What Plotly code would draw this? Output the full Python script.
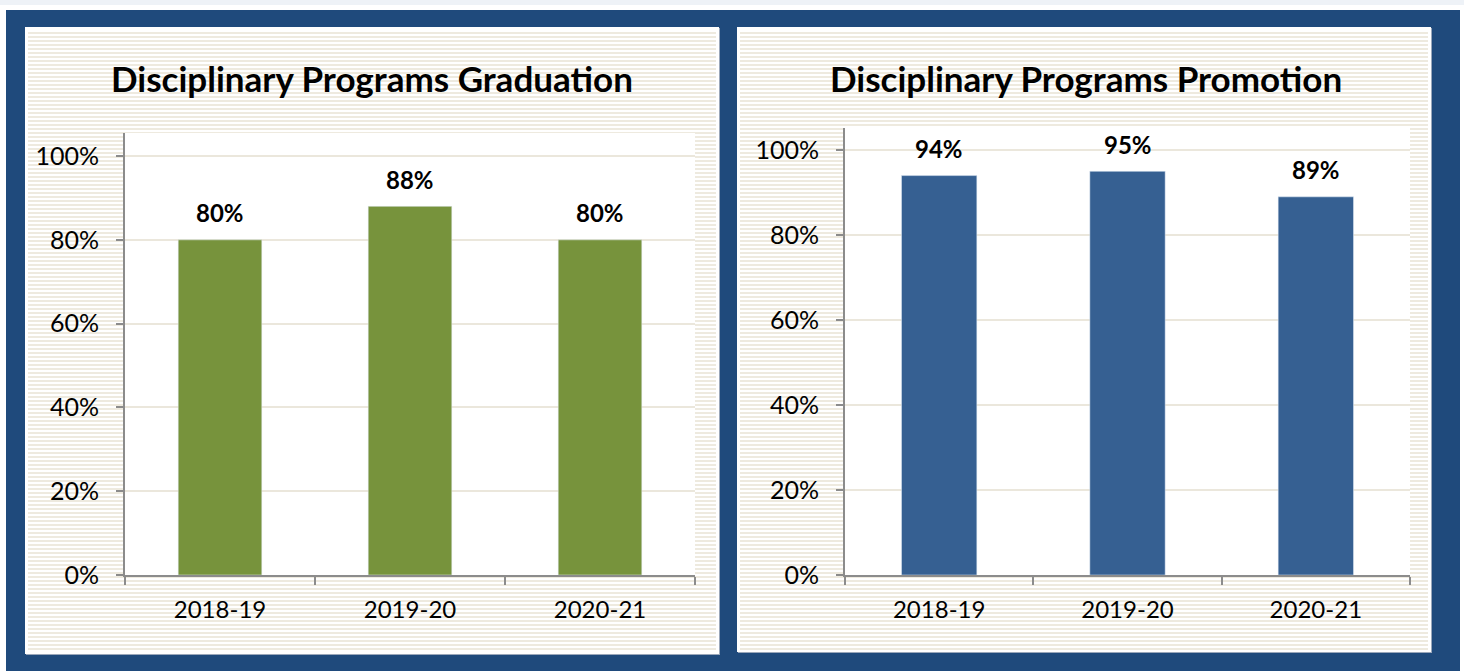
import base64
import plotly.graph_objects as go

# ---- data ----
years = ["2018-19", "2019-20", "2020-21"]
graduation = [0.80, 0.88, 0.80]
promotion = [0.94, 0.95, 0.89]
grad_title = "Disciplinary Programs Graduation"
promo_title = "Disciplinary Programs Promotion"
y_ticks = [0, 0.2, 0.4, 0.6, 0.8, 1.0]

W, H = 1464, 671
FONT = "Lato"
GREEN = "#77933c"
BLUE = "#366092"
FRAME = "#1f4a7c"
STRIPE = "#eeeadf"
AXIS = "#8c8c8c"

svg = f"""<svg xmlns='http://www.w3.org/2000/svg' width='{W}' height='{H}' viewBox='0 0 {W} {H}'>
<defs><pattern id='s' width='4' height='4' patternUnits='userSpaceOnUse'>
<rect x='0' y='0' width='4' height='2' fill='{STRIPE}'/></pattern></defs>
<rect width='{W}' height='{H}' fill='#ffffff'/>
<rect width='{W}' height='5' fill='#eef2f7'/>
<rect x='6' y='10' width='1454' height='661' fill='{FRAME}'/>
<rect x='26' y='28' width='694' height='627' fill='#9aa7ba'/>
<rect x='25' y='27' width='694' height='627' fill='#ffffff'/>
<rect x='28' y='32' width='688' height='618' fill='url(#s)'/>
<rect x='738' y='28' width='694' height='625' fill='#9aa7ba'/>
<rect x='737' y='27' width='694' height='625' fill='#ffffff'/>
<rect x='740' y='32' width='688' height='618' fill='url(#s)'/>
</svg>"""
src = "data:image/svg+xml;base64," + base64.b64encode(svg.encode()).decode()


def px(x):
    return x / W


def py(y):
    return 1 - y / H


fig = go.Figure()
fig.add_trace(go.Bar(x=years, y=graduation, marker_color=GREEN, width=0.44,
                     xaxis="x", yaxis="y", hoverinfo="skip"))
fig.add_trace(go.Bar(x=years, y=promotion, marker_color=BLUE, width=0.40,
                     xaxis="x2", yaxis="y2", hoverinfo="skip"))

annotations = []
for xs, ys, xr, yr in [(years, graduation, "x", "y"), (years, promotion, "x2", "y2")]:
    for cx, cy in zip(xs, ys):
        annotations.append(dict(x=cx, y=cy, xref=xr, yref=yr, text=f"<b>{round(cy*100)}%</b>",
                                showarrow=False, yanchor="middle", yshift=27,
                                font=dict(family=FONT, size=24, color="#000000")))
annotations.append(dict(x=px(372), y=py(78), xref="paper", yref="paper", text=f"<b>{grad_title}</b>",
                        showarrow=False, xanchor="center", yanchor="middle",
                        font=dict(family=FONT, size=35, color="#000000")))
annotations.append(dict(x=px(1086), y=py(78), xref="paper", yref="paper", text=f"<b>{promo_title}</b>",
                        showarrow=False, xanchor="center", yanchor="middle",
                        font=dict(family=FONT, size=35, color="#000000")))

yaxis_common = dict(tickvals=y_ticks, tickformat=".0%", showgrid=True, gridcolor="#ebe7dc", gridwidth=2,
                    showline=True, linecolor=AXIS, linewidth=2, ticks="outside", ticklen=7,
                    tickcolor=AXIS, tickwidth=2, zeroline=False, fixedrange=True, automargin=False,
                    tickfont=dict(family=FONT, size=25, color="#000000"), ticklabelstandoff=12)
xaxis_common = dict(showline=True, linecolor=AXIS, linewidth=2, ticks="outside", ticklen=8,
                    tickcolor=AXIS, tickwidth=2, tickson="boundaries", showgrid=False, fixedrange=True,
                    automargin=False,
                    tickfont=dict(family=FONT, size=24, color="#000000"), ticklabelstandoff=12)

fig.update_layout(
    width=W, height=H, margin=dict(l=0, r=0, t=0, b=0, pad=0, autoexpand=False),
    paper_bgcolor="#ffffff", plot_bgcolor="rgba(0,0,0,0)", showlegend=False,
    xaxis=dict(domain=[px(125), px(695)], anchor="y", **xaxis_common),
    yaxis=dict(domain=[py(575), py(133)], anchor="x", range=[0, 1.055], **yaxis_common),
    xaxis2=dict(domain=[px(845), px(1410)], anchor="y2", **xaxis_common),
    yaxis2=dict(domain=[py(575), py(128)], anchor="x2", range=[0, 1.052], **yaxis_common),
    images=[dict(source=src, xref="paper", yref="paper", x=0, y=1, sizex=1, sizey=1,
                 xanchor="left", yanchor="top", sizing="stretch", layer="below")],
    shapes=[
        dict(type="rect", xref="x domain", yref="y domain", x0=0, x1=1, y0=0, y1=1,
             fillcolor="#ffffff", line_width=0, layer="below"),
        dict(type="rect", xref="x2 domain", yref="y2 domain", x0=0, x1=1, y0=0, y1=1,
             fillcolor="#ffffff", line_width=0, layer="below"),
    ],
    annotations=annotations,
)

post = """
document.documentElement.style.margin='0';
document.documentElement.style.overflow='hidden';
document.body.style.margin='0';
document.body.style.overflow='hidden';
"""

fig.write_html("out.html", post_script=post, config={"displayModeBar": False})
